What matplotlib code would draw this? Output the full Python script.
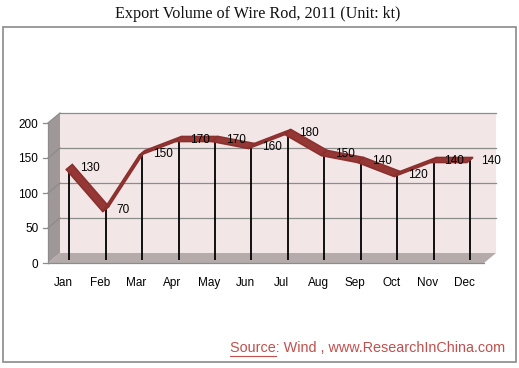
import numpy as np
import matplotlib
matplotlib.use('Agg')
import matplotlib.pyplot as plt
from matplotlib.patches import Polygon, Rectangle
from matplotlib.lines import Line2D
from matplotlib.transforms import ScaledTranslation


months = ['Jan', 'Feb', 'Mar', 'Apr', 'May', 'Jun',
          'Jul', 'Aug', 'Sep', 'Oct', 'Nov', 'Dec']
volume = [130, 70, 150, 170, 170, 160, 180, 150, 140, 120, 140, 140]
yticks = [0, 50, 100, 150, 200]

W, H = 519, 368
fig = plt.figure(figsize=(W / 100, H / 100), dpi=100)

# middle plane of the fake 3D box, in pixels
left, right, bottom, top = 54, 490, 258, 118
ax = fig.add_axes([left / W, 1 - bottom / H, (right - left) / W, (bottom - top) / H])
x0, x1 = -0.42, 11.55
ax.set_xlim(x0, x1)
ax.set_ylim(0, 200)
for s in ax.spines.values():
    s.set_visible(False)
ax.patch.set_visible(False)

# depth offsets (6px right, 5px up) converted to data units
ddx = 6 / ((right - left) / (x1 - x0))
ddy = 5 / ((bottom - top) / 200)

x = np.arange(len(months))
grid_c = '#8c8c8c'

# back wall
ax.add_patch(Rectangle((x0 + ddx, ddy), x1 - x0, 200, facecolor='#f3e6e6',
                       edgecolor='none', zorder=0, clip_on=False))
# left side wall
ax.add_patch(Polygon([(x0 - ddx, -ddy), (x0 - ddx, 200 - ddy),
                      (x0 + ddx, 200 + ddy), (x0 + ddx, ddy)],
                     facecolor='#a09898', edgecolor='none', zorder=0, clip_on=False))
# floor
ax.add_patch(Polygon([(x0 - ddx, -ddy), (x1 - ddx, -ddy),
                      (x1 + ddx, ddy), (x0 + ddx, ddy)],
                     facecolor='#b5abab', edgecolor='none', zorder=0, clip_on=False))

tick_len = 5 / ((right - left) / (x1 - x0))
for v in yticks:
    if v > 0:
        ax.plot([x0 + ddx, x1 + ddx], [v + ddy, v + ddy], color=grid_c, lw=0.9,
                zorder=1, clip_on=False)
        ax.plot([x0 - ddx, x0 + ddx], [v - ddy, v + ddy], color=grid_c, lw=0.9,
                zorder=1, clip_on=False)
    ax.plot([x0 - ddx - tick_len, x0 - ddx], [v - ddy, v - ddy], color=grid_c,
            lw=0.9, zorder=1, clip_on=False)
ax.plot([x0 - ddx, x0 - ddx], [-ddy, 200 - ddy], color=grid_c, lw=0.9,
        zorder=1, clip_on=False)
ax.plot([x0 - ddx, x1 - ddx], [-ddy, -ddy], color=grid_c, lw=0.9,
        zorder=1, clip_on=False)

# drop lines
ax.vlines(x, -ddy * 0.4, volume, colors='black', lw=1.3, zorder=3, clip_on=False)

# ribbon line
rdx, rdy = ddx / 2, ddy / 2
for i in range(len(x) - 1):
    pts = [(x[i] - rdx, volume[i] - rdy), (x[i + 1] - rdx, volume[i + 1] - rdy),
           (x[i + 1] + rdx, volume[i + 1] + rdy), (x[i] + rdx, volume[i] + rdy)]
    ax.add_patch(Polygon(pts, facecolor='#953735', edgecolor='#8a302e', lw=1.2,
                         zorder=4, clip_on=False))

# data labels
for xi, v in zip(x, volume):
    ax.annotate(str(v), (xi, v), xytext=(11, -1), textcoords='offset pixels',
                ha='left', va='center', fontsize=8.5, family='Liberation Sans',
                color='black', zorder=5)

# axis labels sitting on the front plane
front = ScaledTranslation(-0.06, -0.05, fig.dpi_scale_trans)
ax.set_xticks(x, months)
ax.set_yticks(yticks)
ax.tick_params(axis='x', length=0, pad=10, labelsize=8.5)
ax.tick_params(axis='y', length=0, pad=7, labelsize=8.5)
for lab in ax.get_xticklabels() + ax.get_yticklabels():
    lab.set_family('Liberation Sans')
    lab.set_transform(lab.get_transform() + front)

# frame, title, source
fig.add_artist(Rectangle((3 / W, 1 - 362 / H), 513 / W, 335 / H, transform=fig.transFigure,
                         facecolor='none', edgecolor='#8a8a8a', lw=1.2))
fig.text(258 / W, 1 - 14 / H, 'Export Volume of Wire Rod, 2011 (Unit: kt)',
         ha='center', va='center', fontsize=11.6, family='Liberation Serif', color='#111111')

src_size = 10.4
src = fig.text(505 / W, 1 - 348 / H, 'Source: Wind , www.ResearchInChina.com',
               ha='right', va='center', fontsize=src_size, family='Liberation Sans',
               color='#c0504d')
r = fig.canvas.get_renderer()
bb = src.get_window_extent(r)
probe = fig.text(0, 0, 'Source', fontsize=src_size, family='Liberation Sans', alpha=0)
pw = probe.get_window_extent(r).width
fig.add_artist(Line2D([bb.x0 / W, (bb.x0 + pw) / W], [(bb.y0 - 1) / H, (bb.y0 - 1) / H],
                      transform=fig.transFigure, color='#c0504d', lw=0.8))

fig.savefig('out.png', dpi=100)
